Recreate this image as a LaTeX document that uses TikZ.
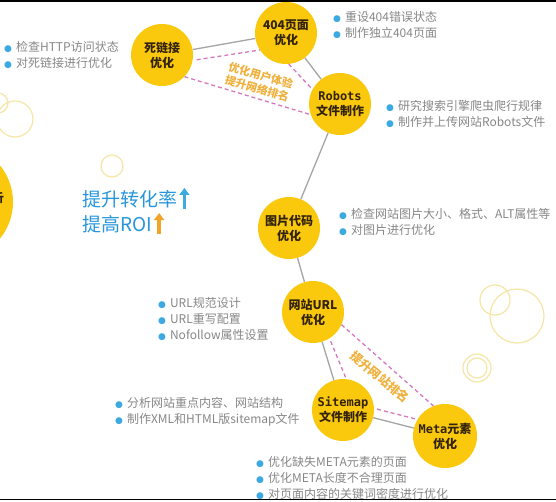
\documentclass[tikz,border=0pt]{standalone}
\usepackage{fontspec}
\setmainfont{Noto Sans CJK SC}
\setmonofont{DejaVu Sans Mono}
\newfontfamily\dejavu{DejaVu Sans}
\usetikzlibrary{arrows.meta,calc}
\definecolor{gold}{RGB}{250,200,12}
\definecolor{nodetext}{RGB}{50,35,10}
\definecolor{linkgrey}{RGB}{165,165,165}
\definecolor{pinkd}{RGB}{214,120,190}
\definecolor{orangel}{RGB}{240,176,60}
\definecolor{bulletgrey}{RGB}{135,135,135}
\definecolor{bblue}{RGB}{60,170,225}
\definecolor{bigblue}{RGB}{40,150,220}
\definecolor{arroworange}{RGB}{240,165,40}
\definecolor{decoyellow}{RGB}{246,230,165}
\newcommand{\bul}{{\color{bblue}\dejavu\fontsize{9}{9}\selectfont ●}\hspace{4pt}}
\begin{document}
\begin{tikzpicture}[x=1pt,y=-1pt,
  stage/.style={circle, fill=gold, minimum size=62pt, inner sep=0pt,
    font=\fontsize{12}{15}\selectfont\bfseries, text=nodetext, align=center},
  link/.style={draw=linkgrey, line width=1.3pt},
  pinkdash/.style={draw=pinkd, dash pattern=on 4pt off 3pt, line width=1.3pt},
  bullets/.style={font=\fontsize{12}{16}\selectfont, text=bulletgrey, align=left,
    anchor=west, inner sep=0pt},
  tag/.style={font=\fontsize{11}{13}\selectfont\bfseries, text=orangel, align=center, inner sep=0pt},
  deco/.style={draw=decoyellow, line width=1.2pt},
  big/.style={font=\fontsize{19}{22}\selectfont, text=bigblue, anchor=west, inner sep=0pt}
]
\useasboundingbox (0,0) rectangle (556,501);
\fill[white] (0,0) rectangle (556,501);
\clip (0,0) rectangle (556,501);

% decorative rings
\draw[deco] (-2,103) circle (10);
\draw[deco] (15,119) circle (18);
\draw[deco] (112,166) circle (11);
\draw[deco] (495,300) circle (15);
\draw[deco] (517,316) circle (27);
\draw[deco] (477,368) circle (14);
\draw[deco] (477,368) circle (10);

% left partial node
\node[stage, minimum size=116pt] (root) at (-45,202) {};
\node[font=\fontsize{12}{15}\selectfont\bfseries, text=nodetext, anchor=east, inner sep=0pt] (rootlabel) at (4,198) {分析};

% stage nodes
\node[stage] (dead) at (162,55) {死链接\\优化};
\node[stage] (p404) at (286,33) {404页面\\优化};
\node[stage] (robots) at (340,104) {\texttt{Robots}\\文件制作};
\node[stage] (img) at (289,228) {图片代码\\优化};
\node[stage] (url) at (313,312) {网站URL\\优化};
\node[stage] (sitemap) at (343,410) {\texttt{Sitemap}\\文件制作};
\node[stage, minimum size=64pt] (meta) at (445,436) {\texttt{Meta}元素\\优化};

% connectors
\draw[link] (dead) -- (p404);
\draw[link] (p404) -- (robots);
\draw[link] (robots) -- (img);
\draw[link] (img) -- (url);
\draw[link] (url) -- (sitemap);
\draw[link] (sitemap) -- (meta);

% dashed groups
\draw[pinkdash, shorten <=4pt] (dead.-10) -- (p404.213);
\draw[pinkdash] (p404.-85) -- (robots.152);
\draw[pinkdash] (dead.-44) -- (robots.200);
\draw[pinkdash] (url.-24) -- (meta.111);
\draw[pinkdash, shorten <=3pt] (url.-58) -- (sitemap.84);
\draw[pinkdash, shorten <=3pt] (sitemap.3) -- (meta.149);

\node[tag, rotate=-16] (tag1) at (259,82) {优化用户体验\\提升网络排名};
\node[tag, rotate=-40, font=\fontsize{12}{14}\selectfont\bfseries] (tag2) at (380,377) {提升网站排名};

% bullet lists
\node[bullets] (bdead) at (4,55) {\bul 检查HTTP访问状态\\\bul 对死链接进行优化};
\node[bullets] (b404) at (333,25) {\bul 重设404错误状态\\\bul 制作独立404页面};
\node[bullets] (brobots) at (386,114) {\bul 研究搜索引擎爬虫爬行规律\\\bul 制作并上传网站Robots文件};
\node[bullets] (bimg) at (339,221.5) {\bul 检查网站图片大小、格式、ALT属性等\\\bul 对图片进行优化};
\node[bullets] (burl) at (158,319) {\bul URL规范设计\\\bul URL重写配置\\\bul Nofollow属性设置};
\node[bullets] (bsite) at (115,412) {\bul 分析网站重点内容、网站结构\\\bul 制作XML和HTML版sitemap文件};
\node[bullets] (bmeta) at (256,478) {\bul 优化缺失META元素的页面\\\bul 优化META长度不合理页面\\\bul 对页面内容的关键词密度进行优化};

% big blue slogans
\node[big] (s1) at (82,199) {提升转化率};
\node[big] (s2) at (82,224) {提高ROI};
\coordinate (a1b) at ($(s1.south east)+(7,1)$);
\coordinate (a1t) at ($(s1.north east)+(7,-2)$);
\coordinate (a2b) at ($(s2.south east)+(7,1)$);
\coordinate (a2t) at ($(s2.north east)+(7,-2)$);
\draw[bblue, line width=3.5pt, -{Triangle[width=10pt,length=7pt]}] (a1b) -- (a1t);
\draw[arroworange, line width=3.5pt, -{Triangle[width=10pt,length=7pt]}] (a2b) -- (a2t);

% frame lines
\draw[black, line width=1.5pt] (0,0.75) -- (556,0.75);
\draw[black, line width=1.5pt] (0,499.25) -- (556,499.25);
\end{tikzpicture}
\end{document}
